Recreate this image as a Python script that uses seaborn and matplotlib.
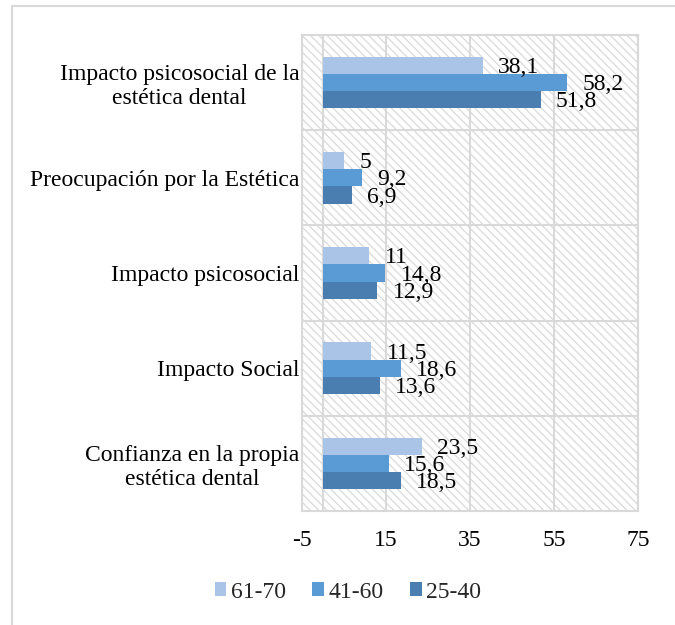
import matplotlib
matplotlib.use("Agg")
import matplotlib.pyplot as plt
import seaborn as sns
import pandas as pd
from matplotlib.patches import Rectangle, Patch

categories = [
    "Impacto psicosocial de la\nestética dental",
    "Preocupación por la Estética",
    "Impacto psicosocial",
    "Impacto Social",
    "Confianza en la propia\nestética dental",
]
groups = ["61-70", "41-60", "25-40"]
vals_61_70 = [38.1, 5, 11, 11.5, 23.5]
vals_41_60 = [58.2, 9.2, 14.8, 18.6, 15.6]
vals_25_40 = [51.8, 6.9, 12.9, 13.6, 18.5]
colors = ["#A9C4E6", "#5B9BD5", "#4A7EB1"]
xticks = [-5, 15, 35, 55, 75]

rows = []
for g, vals in zip(groups, [vals_61_70, vals_41_60, vals_25_40]):
    for c, v in zip(categories, vals):
        rows.append({"cat": c, "grupo": g, "valor": v})
df = pd.DataFrame(rows)

FS = 17

sns.set_theme(style="white")
plt.rcParams["font.family"] = ["Liberation Serif", "DejaVu Serif"]
plt.rcParams["hatch.color"] = "#DADADA"
plt.rcParams["hatch.linewidth"] = 0.9

fig = plt.figure(figsize=(6.75, 6.25), dpi=100)
ax = fig.add_axes([302 / 675, 1 - 511 / 625, 336 / 675, 476 / 625])

# hatched background
bg = Rectangle((0, 0), 1, 1, transform=ax.transAxes, facecolor="white",
               edgecolor="#DADADA", linewidth=0, hatch="\\\\\\\\", zorder=0)
ax.add_patch(bg)

sns.barplot(data=df, y="cat", x="valor", hue="grupo", hue_order=groups,
            order=categories, palette=colors, orient="h", width=0.54,
            saturation=1, ax=ax, legend=False, zorder=3, linewidth=0)

ax.set_xlim(-5, 75)
ax.set_xticks(xticks)
ax.set_xticklabels([str(t) for t in xticks])
ax.set_xlabel("")
ax.set_ylabel("")
ax.set_yticks(range(len(categories)))
ax.set_yticklabels(categories, multialignment="center", linespacing=1.2)
ax.set_yticks([i + 0.5 for i in range(len(categories) - 1)], minor=True)
ax.tick_params(axis="y", which="both", length=0, pad=2, labelsize=FS)
ax.tick_params(axis="x", length=0, pad=14, labelsize=FS)
for lab in ax.get_xticklabels() + ax.get_yticklabels():
    lab.set_color("#000000")

gridc = "#D9D9D9"
ax.grid(True, axis="x", color=gridc, linewidth=1.5, zorder=1)
ax.grid(True, axis="y", which="minor", color=gridc, linewidth=1.5, zorder=1)
ax.grid(False, axis="y", which="major")
ax.axvline(0, color=gridc, linewidth=1.5, zorder=2)
ax.set_axisbelow(True)
for s in ax.spines.values():
    s.set_visible(True)
    s.set_color(gridc)
    s.set_linewidth(1.5)

for cont, vals in zip(ax.containers, [vals_61_70, vals_41_60, vals_25_40]):
    labels = [f"{v:g}".replace(".", ",") for v in vals]
    anns = ax.bar_label(cont, labels=labels, padding=11, fontsize=FS, color="black")
    for a in anns:
        a.xyann = (11, -1.5)

handles = [Patch(facecolor=c, edgecolor="none") for c in colors]
fig.legend(handles, groups, loc="center", bbox_to_anchor=(348 / 675, 1 - 592 / 625),
           ncol=3, frameon=False, fontsize=FS, handlelength=0.5, handleheight=0.5,
           handletextpad=0.2, columnspacing=1.1)

# outer chart border (left and top visible)
fig.add_artist(Rectangle((12 / 675, -0.1), 2, 1.1 - 6 / 625, transform=fig.transFigure,
                         facecolor="none", edgecolor=gridc, linewidth=1.5))

fig.savefig("out.png", dpi=100)
